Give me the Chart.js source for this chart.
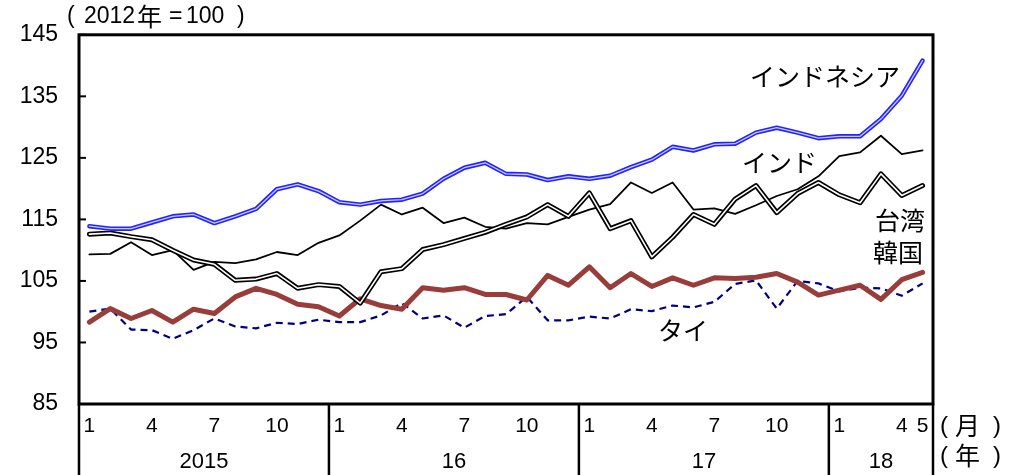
<!DOCTYPE html>
<html lang="ja">
<head>
  <meta charset="UTF-8" />
  <title>アジア各国の指数</title>
  <style>
    body { margin: 0; background: #fff; }
    #wrap { width: 1022px; height: 475px; position: relative; }
  </style>
</head>
<body>
  <div id="wrap"><canvas id="chart"></canvas></div>
  <script src="https://cdn.jsdelivr.net/npm/chart.js"></script>
  <script>
    // 2015/1 .. 2018/5, monthly
    const categories = [
      '15/1','15/2','15/3','15/4','15/5','15/6','15/7','15/8','15/9','15/10','15/11','15/12',
      '16/1','16/2','16/3','16/4','16/5','16/6','16/7','16/8','16/9','16/10','16/11','16/12',
      '17/1','17/2','17/3','17/4','17/5','17/6','17/7','17/8','17/9','17/10','17/11','17/12',
      '18/1','18/2','18/3','18/4','18/5'
    ];
    const monthLabels = [
      '1','','','4','','','7','','','10','','',
      '1','','','4','','','7','','','10','','',
      '1','','','4','','','7','','','10','','',
      '1','','','4','5'
    ];
    const yearLabels = ['2015', '16', '17', '18'];
    const yearStart = [0, 12, 24, 36];
    const yTicks = [85, 95, 105, 115, 125, 135, 145];

    const indonesia = [113.9, 113.5, 113.5, 114.5, 115.5, 115.8, 114.4, 115.5, 116.7, 119.9, 120.7, 119.6,
      117.8, 117.4, 118.0, 118.2, 119.2, 121.6, 123.4, 124.2, 122.4, 122.3, 121.4, 122.0,
      121.6, 122.1, 123.5, 124.7, 126.8, 126.2, 127.2, 127.3, 129.1, 129.9, 129.1, 128.2,
      128.5, 128.5, 131.3, 135.1, 140.8];
    const india = [109.3, 109.4, 111.3, 109.2, 110.0, 106.8, 108.1, 107.9, 108.5, 109.7, 109.2, 111.2,
      112.4, 114.8, 117.4, 115.8, 116.9, 114.4, 115.3, 113.8, 113.5, 114.4, 114.2, 115.4,
      116.6, 117.5, 121.0, 119.3, 121.0, 116.6, 116.8, 115.9, 117.3, 118.8, 119.9, 122.0,
      125.3, 125.9, 128.6, 125.6, 126.2];
    const taiwan = [112.6, 112.8, 112.2, 111.7, 110.0, 108.4, 107.7, 105.1, 105.3, 106.2, 103.8, 104.4,
      104.1, 101.4, 106.5, 107.0, 110.1, 110.9, 111.9, 112.9, 114.2, 115.4, 117.4, 115.5,
      119.3, 113.5, 114.8, 108.9, 112.1, 115.8, 114.2, 118.3, 120.5, 116.1, 119.2, 121.0,
      119.0, 117.7, 122.4, 118.9, 120.5];
    const korea = [98.3, 100.5, 98.9, 100.2, 98.3, 100.4, 99.7, 102.4, 103.8, 102.8, 101.2, 100.8,
      99.3, 102.1, 101.0, 100.4, 103.9, 103.5, 103.9, 102.8, 102.8, 101.9, 105.9, 104.3,
      107.3, 103.9, 106.2, 104.1, 105.5, 104.3, 105.5, 105.4, 105.6, 106.2, 104.8, 102.7,
      103.5, 104.3, 102.0, 105.2, 106.4];
    const thailand = [100.0, 100.5, 97.1, 97.0, 95.6, 97.0, 98.9, 97.6, 97.3, 98.2, 98.0, 98.7,
      98.3, 98.3, 99.4, 101.4, 98.9, 99.4, 97.4, 99.3, 99.6, 102.4, 98.6, 98.6,
      99.2, 98.9, 100.4, 100.1, 101.0, 100.7, 101.6, 104.5, 105.1, 100.5, 105.0, 104.6,
      103.3, 103.9, 103.8, 102.6, 104.6];

    const jpFont = '"Noto Sans CJK JP", "Liberation Sans", sans-serif';
    const numFont = '"Liberation Sans", Arial, sans-serif';

    function line(label, data, color, width, order, extra) {
      return Object.assign({
        label: label, data: data, borderColor: color, borderWidth: width,
        pointRadius: 0, tension: 0, fill: false, order: order,
        borderJoinStyle: 'round', borderCapStyle: 'round'
      }, extra || {});
    }

    const frame = {
      id: 'frame',
      afterDraw(chart) {
        const ctx = chart.ctx;
        const { left, right, top, bottom } = chart.chartArea;
        const xs = chart.scales.x, ys = chart.scales.y;
        const H = chart.height;
        ctx.save();
        ctx.strokeStyle = '#000';
        ctx.lineWidth = 3;
        ctx.strokeRect(left, top, right - left, bottom - top);

        // inward ticks on the value axis
        ctx.lineWidth = 2;
        yTicks.forEach(v => {
          const y = ys.getPixelForValue(v);
          ctx.beginPath(); ctx.moveTo(left, y); ctx.lineTo(left + 7, y); ctx.stroke();
        });

        // box under the plot
        ctx.lineWidth = 2.5;
        ctx.beginPath();
        ctx.moveTo(left, bottom); ctx.lineTo(left, H);
        ctx.moveTo(right, bottom); ctx.lineTo(right, H);
        yearStart.slice(1).forEach(s => {
          const x = (xs.getPixelForValue(s - 1) + xs.getPixelForValue(s)) / 2;
          ctx.moveTo(x, bottom); ctx.lineTo(x, H);
        });
        ctx.stroke();

        ctx.fillStyle = '#000';
        ctx.textBaseline = 'middle';
        ctx.textAlign = 'center';
        ctx.font = '21px ' + numFont;
        monthLabels.forEach((m, i) => {
          if (m) ctx.fillText(m, xs.getPixelForValue(i), bottom + 22);
        });
        ctx.font = '22px ' + numFont;
        yearLabels.forEach((y, k) => {
          const a = k === 0 ? left : (xs.getPixelForValue(yearStart[k] - 1) + xs.getPixelForValue(yearStart[k])) / 2;
          const b = k === yearLabels.length - 1 ? right : (xs.getPixelForValue(yearStart[k + 1] - 1) + xs.getPixelForValue(yearStart[k + 1])) / 2;
          ctx.fillText(y, (a + b) / 2, bottom + 58);
        });

        ctx.textAlign = 'left';
        ctx.font = '23px ' + numFont;
        ctx.fillText('(', 67, 17);
        ctx.fillText('2012', 84, 17);
        ctx.fillText('=', 169, 17);
        ctx.fillText('100', 186, 17);
        ctx.fillText(')', 237, 17);
        ctx.font = '25px ' + jpFont;
        ctx.fillText('年', 137, 16);

        ctx.font = '24px ' + numFont;
        ctx.fillText('(', 940, bottom + 22);
        ctx.fillText(')', 993, bottom + 22);
        ctx.fillText('(', 940, bottom + 52);
        ctx.fillText(')', 993, bottom + 52);
        ctx.font = '25px ' + jpFont;
        ctx.fillText('月', 955, bottom + 21);
        ctx.fillText('年', 955, bottom + 51);

        ctx.font = '25px ' + jpFont;
        ctx.fillText('インドネシア', 750, 76);
        ctx.fillText('インド', 742, 162);
        ctx.fillText('台湾', 875, 220);
        ctx.fillText('韓国', 873, 252);
        ctx.fillText('タイ', 658, 330);
        ctx.restore();
      }
    };

    new Chart(document.getElementById('chart'), {
      type: 'line',
      data: {
        labels: categories,
        datasets: [
          line('タイ', thailand, '#00007f', 2.2, 9, { borderDash: [7, 5], borderCapStyle: 'butt' }),
          line('韓国', korea, '#983d3a', 5, 8),
          line('インド', india, '#000', 1.8, 7),
          line('台湾', taiwan, '#000', 5, 6),
          line('台湾', taiwan, '#fff', 1.6, 5),
          line('インドネシア', indonesia, '#2323ff', 4.5, 4),
          line('インドネシア', indonesia, '#c8c8ff', 1.3, 3)
        ]
      },
      options: {
        responsive: true,
        maintainAspectRatio: false,
        animation: false,
        devicePixelRatio: 1,
        layout: { padding: { top: 34, right: 89, bottom: 71, left: 0 } },
        plugins: { legend: { display: false }, tooltip: { enabled: false } },
        scales: {
          x: { display: false, offset: true },
          y: {
            min: 85, max: 145,
            afterFit(scale) { scale.width = 79; },
            afterBuildTicks(scale) { scale.ticks = yTicks.map(v => ({ value: v })); },
            grid: { display: false, drawTicks: false },
            border: { display: false },
            ticks: { padding: 21, color: '#000', font: { size: 23, family: numFont } }
          }
        }
      },
      plugins: [frame]
    });
  </script>
</body>
</html>
